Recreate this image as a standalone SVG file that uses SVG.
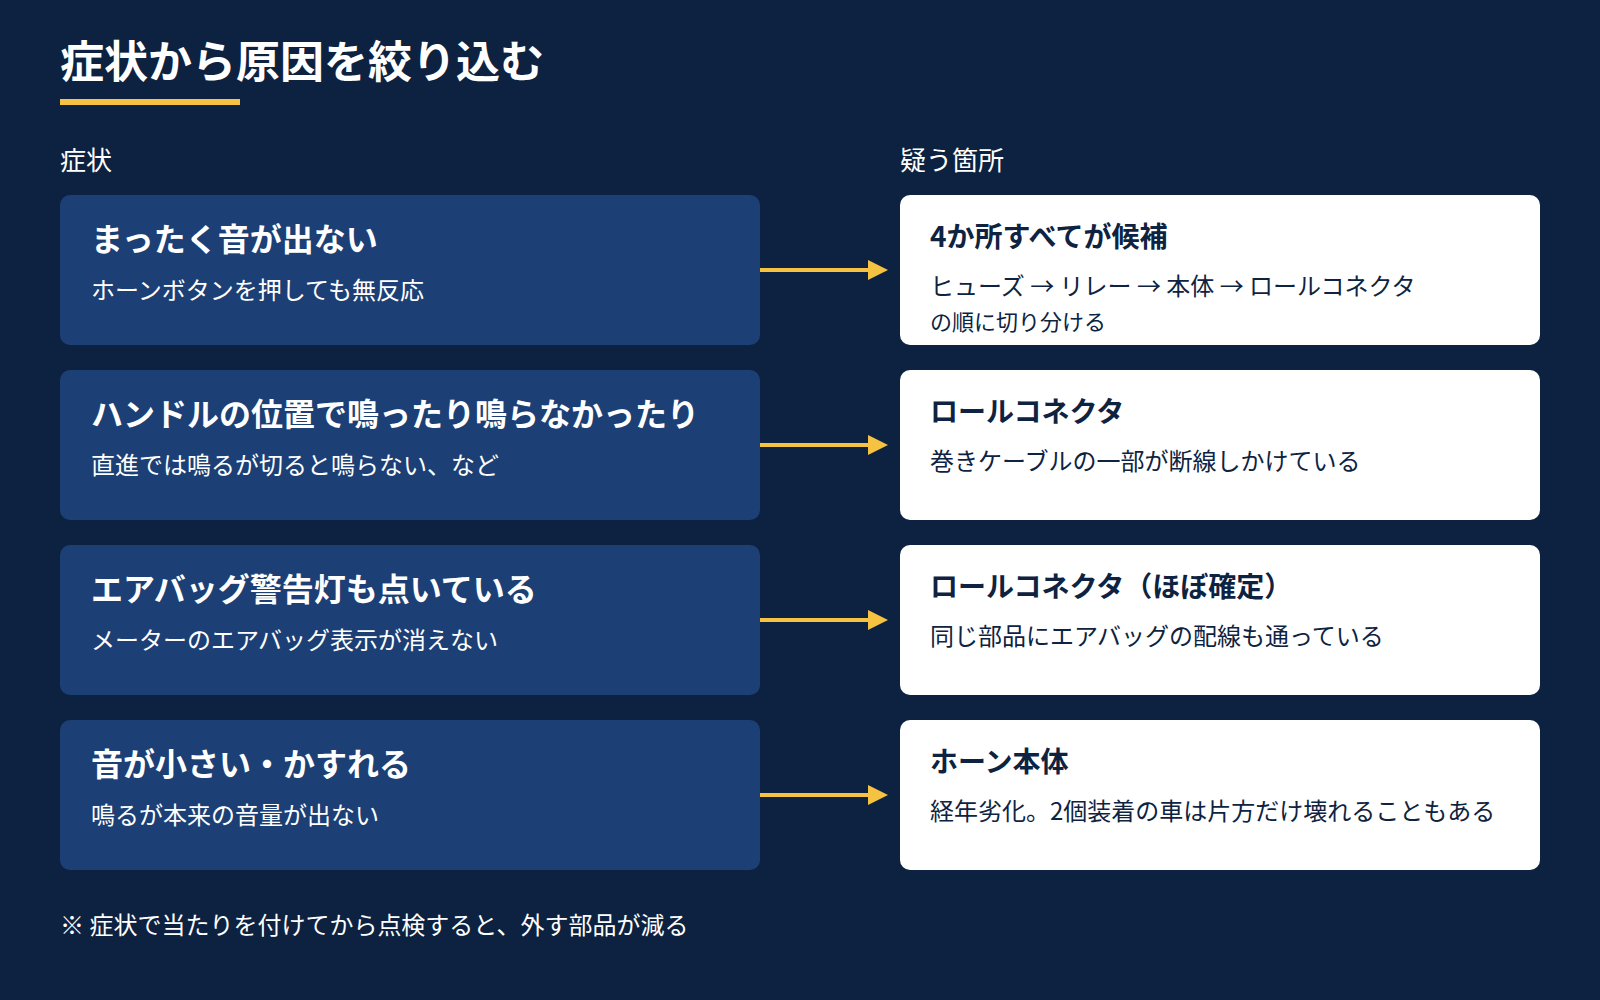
<svg xmlns="http://www.w3.org/2000/svg" width="1600" height="1000" viewBox="0 0 1600 1000">
<style>
text{font-family:"Noto Sans CJK JP","Noto Sans",sans-serif}
.l{fill:#1c4075}
.r{fill:#ffffff}
.lt{fill:#fff;font-size:32px;font-weight:700}
.ls{fill:#fff;font-size:24px}
.rt{fill:#0e2341;font-size:28px;font-weight:700}
.rs{fill:#0e2341;font-size:24px}
.hd{fill:#fff;font-size:26px}
.c{stroke:#f5c242;stroke-width:4}
</style>
<defs><marker id="a" markerWidth="5" markerHeight="5" refX="4" refY="2.5" orient="auto" markerUnits="strokeWidth"><path d="M0,0 L5,2.5 L0,5 z" fill="#f5c242"/></marker></defs>
<rect width="1600" height="1000" fill="#0d2240"/>
<text x="60" y="78" fill="#fff" font-size="44" font-weight="700">症状から原因を絞り込む</text>
<rect x="60" y="99" width="180" height="6" fill="#f5c242"/>
<text class="hd" x="60" y="170">症状</text>
<text class="hd" x="900" y="170">疑う箇所</text>
<g id="s1"><rect class="l" x="60" y="195" width="700" height="150" rx="10"/><text class="lt" x="91" y="251">まったく音が出ない</text><text class="ls" x="91" y="299">ホーンボタンを押しても無反応</text></g>
<g id="s2"><rect class="l" x="60" y="370" width="700" height="150" rx="10"/><text class="lt" x="91" y="426">ハンドルの位置で鳴ったり鳴らなかったり</text><text class="ls" x="91" y="474">直進では鳴るが切ると鳴らない、など</text></g>
<g id="s3"><rect class="l" x="60" y="545" width="700" height="150" rx="10"/><text class="lt" x="91" y="601">エアバッグ警告灯も点いている</text><text class="ls" x="91" y="649">メーターのエアバッグ表示が消えない</text></g>
<g id="s4"><rect class="l" x="60" y="720" width="700" height="150" rx="10"/><text class="lt" x="91" y="776">音が小さい・かすれる</text><text class="ls" x="91" y="824">鳴るが本来の音量が出ない</text></g>
<g id="c1"><rect class="r" x="900" y="195" width="640" height="150" rx="10"/><text class="rt" x="930" y="247">4か所すべてが候補</text><text class="rs" x="930" y="295">ヒューズ → リレー → 本体 → ロールコネクタ</text><text class="rs" x="930" y="330" style="font-size:22px">の順に切り分ける</text></g>
<g id="c2"><rect class="r" x="900" y="370" width="640" height="150" rx="10"/><text class="rt" x="930" y="422">ロールコネクタ</text><text class="rs" x="930" y="470">巻きケーブルの一部が断線しかけている</text></g>
<g id="c3"><rect class="r" x="900" y="545" width="640" height="150" rx="10"/><text class="rt" x="930" y="597">ロールコネクタ（ほぼ確定）</text><text class="rs" x="930" y="645">同じ部品にエアバッグの配線も通っている</text></g>
<g id="c4"><rect class="r" x="900" y="720" width="640" height="150" rx="10"/><text class="rt" x="930" y="772">ホーン本体</text><text class="rs" x="930" y="820">経年劣化。2個装着の車は片方だけ壊れることもある</text></g>
<g id="connectors">
<line class="c" x1="760" y1="270" x2="884" y2="270" marker-end="url(#a)"/>
<line class="c" x1="760" y1="445" x2="884" y2="445" marker-end="url(#a)"/>
<line class="c" x1="760" y1="620" x2="884" y2="620" marker-end="url(#a)"/>
<line class="c" x1="760" y1="795" x2="884" y2="795" marker-end="url(#a)"/>
</g>
<text class="ls" x="60" y="934">※ 症状で当たりを付けてから点検すると、外す部品が減る</text>
</svg>
